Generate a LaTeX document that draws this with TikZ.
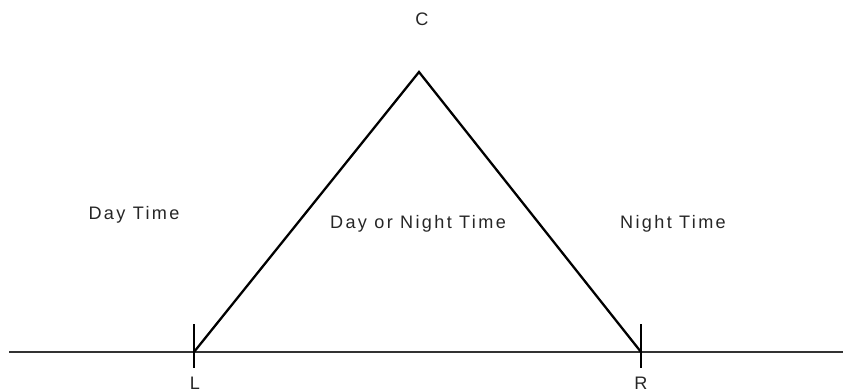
\documentclass[tikz,border=0pt]{standalone}
\usepackage{fontspec}
\newfontfamily\labelfont[LetterSpace=13]{Liberation Sans}
\usetikzlibrary{positioning}

\begin{document}
\begin{tikzpicture}[x=0.02cm,y=-0.02cm,
        lbl/.style={font=\labelfont\fontsize{10.3}{12}\selectfont,anchor=base,inner sep=0pt,text=black!85},
        rule/.style={draw=black!80,line width=1.3pt},
        side/.style={draw=black,line width=1.3pt},
        tickline/.style={draw=black,line width=1.3pt}
      ]
        \useasboundingbox (0,0) rectangle (843,392);
        % base line and the two end marks
        \coordinate (start) at (9,352);
        \coordinate (stop) at (843,352);
        \coordinate (l) at (194,352);
        \coordinate (r) at (641,352);
        \coordinate (c) at (419,72);
        \coordinate (ltop) at (194,324);
        \coordinate (lbot) at (194,368);
        \coordinate (rtop) at (641,324);
        \coordinate (rbot) at (641,368);
        \draw[rule] (start)--(stop);
        \draw[tickline] (ltop)--(lbot);
        \draw[tickline] (rtop)--(rbot);
        \draw[side,line join=miter] (l)--(c)--(r);
        % labels
        \node[lbl] (clbl) at (422,26) {C};
        \node[lbl] (llbl) at (195,389) {L};
        \node[lbl] (rlbl) at (641,389) {R};
        \node[lbl] (day) at (134,219) {Day Time};
        \node[lbl] (both) at (418,228) {Day or Night Time};
        \node[lbl] (night) at (673,228) {Night Time};
      \end{tikzpicture}
\end{document}
